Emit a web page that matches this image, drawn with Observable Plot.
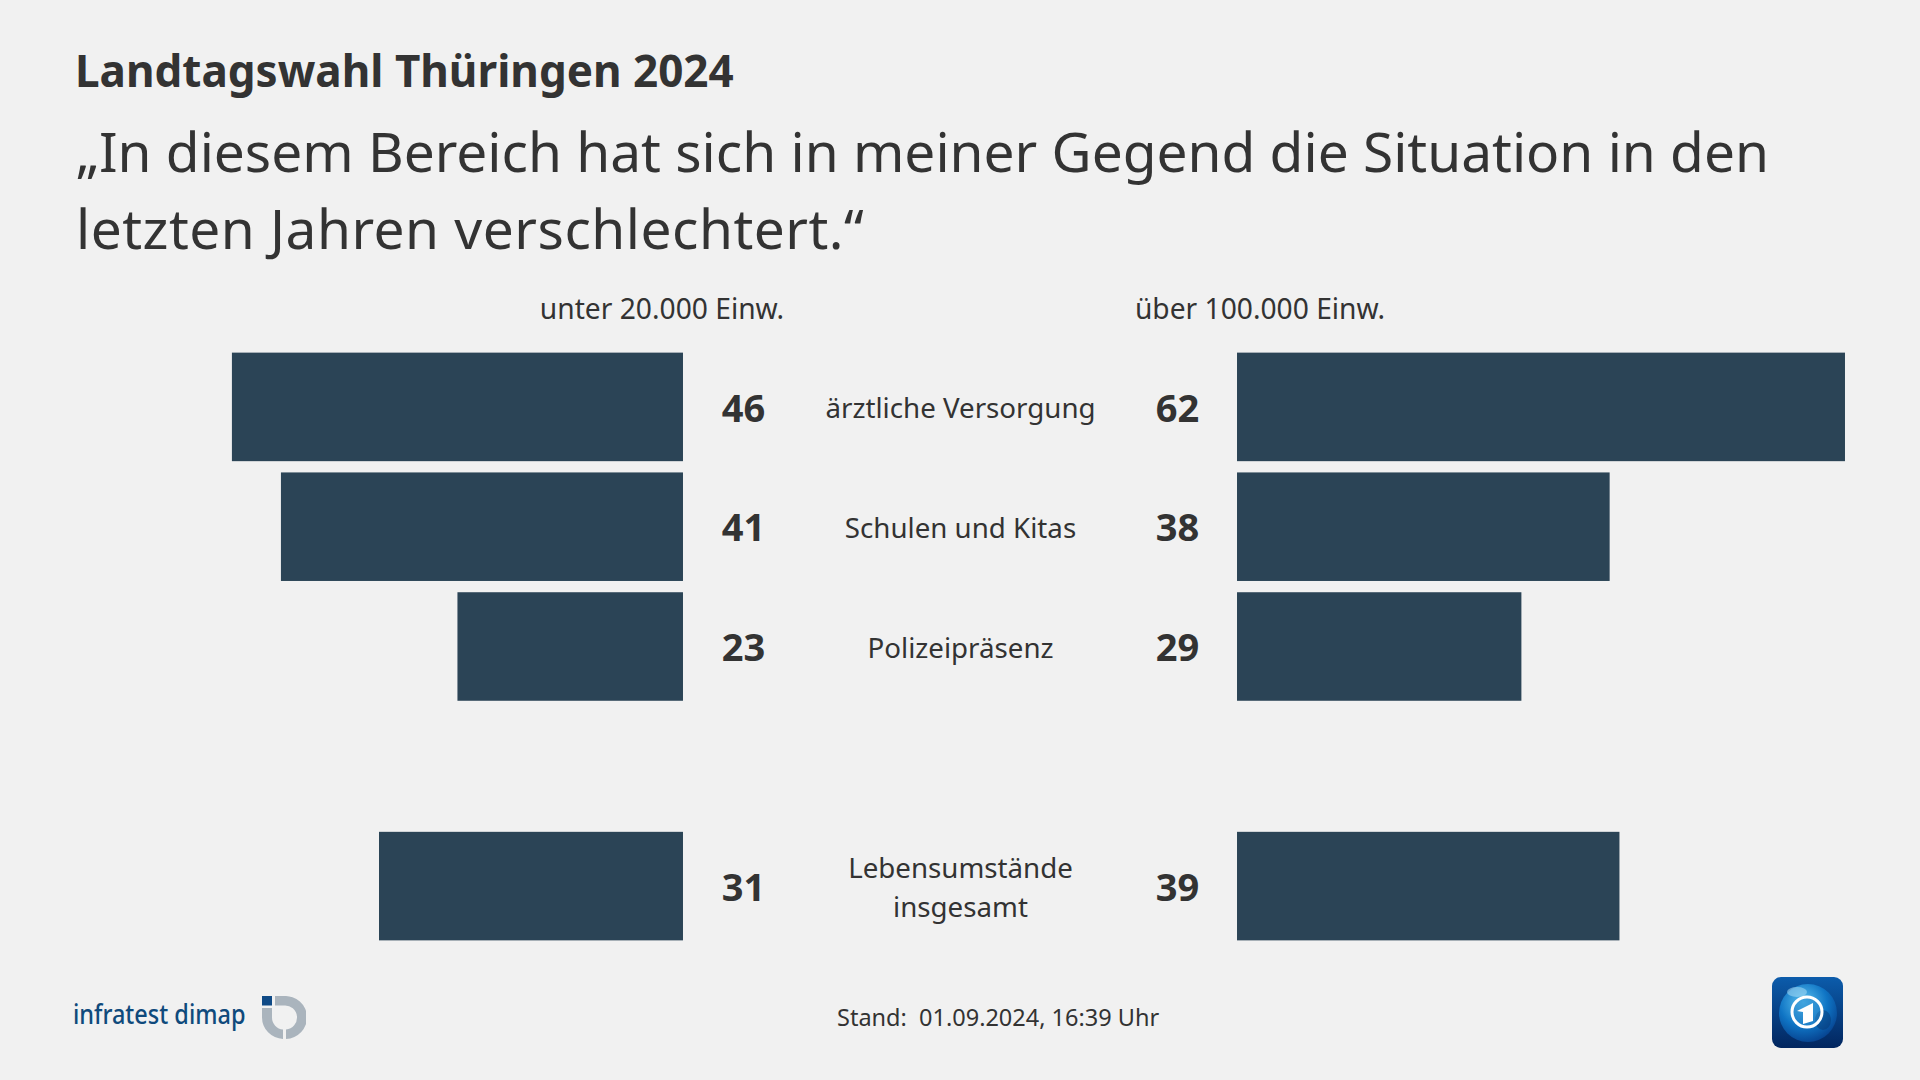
<!DOCTYPE html>
<html lang="de">
<head>
<meta charset="utf-8">
<script src="https://cdn.jsdelivr.net/npm/d3@7"></script>
<script src="https://cdn.jsdelivr.net/npm/@observablehq/plot@0.6"></script>
<style>
html,body{margin:0;padding:0;background:#f1f1f1;}
#page{position:relative;width:1920px;height:1080px;overflow:hidden;background:#f1f1f1;color:#333;font-family:"Noto Sans",sans-serif;}
#page>div,#page>svg{position:absolute;white-space:nowrap;}
#kicker{left:75px;top:42px;font-size:44px;font-weight:700;line-height:56px;}
#headline{left:76px;top:112px;font-size:55px;line-height:77px;}
#headline span{letter-spacing:0.5px;}
.head{top:290px;font-size:28.2px;line-height:36px;transform:translateX(-50%);}
#stand{left:837px;top:1000px;font-size:23.5px;line-height:34px;}
#itext{left:73px;top:996px;font-size:27px;line-height:36px;font-weight:500;color:#0f4a7c;transform:scaleX(0.87);transform-origin:0 50%;}
</style>
</head>
<body>
<div id="page">
  <div id="chart"></div>
  <div id="kicker">Landtagswahl Thüringen 2024</div>
  <div id="headline">„In diesem Bereich hat sich in meiner Gegend die Situation in den<br><span>letzten Jahren verschlechtert.“</span></div>
  <div class="head" style="left:662px">unter 20.000 Einw.</div>
  <div class="head" style="left:1260px">über 100.000 Einw.</div>
  <div id="stand">Stand:&nbsp; 01.09.2024, 16:39 Uhr</div>
  <div id="itext">infratest dimap</div>
  <svg style="left:262px;top:996px" width="44" height="43" viewBox="0 0 44 43">
    <path d="M13 0 H22 A22 21.5 0 0 1 24 43 V33.5 A12 12 0 0 0 22 9.5 H13 Z" fill="#aab4bd"/>
    <path d="M0 12 H10 V21.5 A12 12 0 0 0 21 33.5 V43 A22 21.5 0 0 1 0 21.5 Z" fill="#aab4bd"/>
    <rect x="0" y="0" width="10" height="9.5" fill="#0f4a86"/>
  </svg>
  <svg style="left:1771px;top:976px" width="73" height="73" viewBox="0 0 73 73">
    <defs>
      <linearGradient id="tile" x1="0" y1="0" x2="0" y2="1"><stop offset="0" stop-color="#0c5cab"/><stop offset="1" stop-color="#02265f"/></linearGradient>
      <radialGradient id="globe" cx="0.42" cy="0.32" r="0.75"><stop offset="0" stop-color="#5cc2f0"/><stop offset="0.55" stop-color="#0f74c4"/><stop offset="1" stop-color="#053a86"/></radialGradient>
    </defs>
    <rect x="1" y="1" width="71" height="71" rx="9" fill="url(#tile)"/>
    <circle cx="37" cy="37" r="29" fill="url(#globe)"/>
    <ellipse cx="26" cy="16" rx="10" ry="5" fill="#a8dcf5" opacity="0.55"/>
    <ellipse cx="52" cy="44" rx="8" ry="10" fill="#06356f" opacity="0.45"/>
    <circle cx="36" cy="36" r="15" fill="#2a88cc" fill-opacity="0.5" stroke="#fff" stroke-width="3"/>
    <path d="M26 35 L42 27 V45 L32 48 V36 Z" fill="#fff"/>
  </svg>
</div>
<script>
const categories = ["ärztliche Versorgung", "Schulen und Kitas", "Polizeipräsenz", " ", "Lebensumstände\ninsgesamt"];
const rowLabels = ["ärztliche Versorgung", "Schulen und Kitas", "Polizeipräsenz", "Lebensumstände\ninsgesamt"];
const unter20000 = [46, 41, 23, 31];
const ueber100000 = [62, 38, 29, 39];
const gap = 56.5;

const rows = rowLabels.map((label, i) => ({label, left: unter20000[i], right: ueber100000[i]}));

const chart = Plot.plot({
  width: 1920,
  height: 1080,
  margin: 0,
  style: {background: "transparent", fontFamily: '"Noto Sans", sans-serif', color: "#333"},
  x: {domain: [-69.65, 126.15], range: [0, 1920], axis: null},
  y: {domain: categories, range: [347, 946], round: false, paddingInner: 0.094, paddingOuter: 0.047, axis: null},
  marks: [
    Plot.rectX(rows, {y: "label", x1: 0, x2: d => -d.left, fill: "#2b4456"}),
    Plot.rectX(rows, {y: "label", x1: gap, x2: d => gap + d.right, fill: "#2b4456"}),
    Plot.text(rows, {y: "label", x: 0, dx: 60, dy: 2, text: d => String(d.left), fontSize: 38, fontWeight: 700, fill: "#333"}),
    Plot.text(rows, {y: "label", x: gap, dx: -60, dy: 2, text: d => String(d.right), fontSize: 38, fontWeight: 700, fill: "#333"}),
    Plot.text(rows, {y: "label", x: gap / 2, dy: -2, text: "label", fontSize: 27.7, lineHeight: 1.41, fill: "#333"})
  ]
});
document.getElementById("chart").appendChild(chart);
</script>
</body>
</html>
